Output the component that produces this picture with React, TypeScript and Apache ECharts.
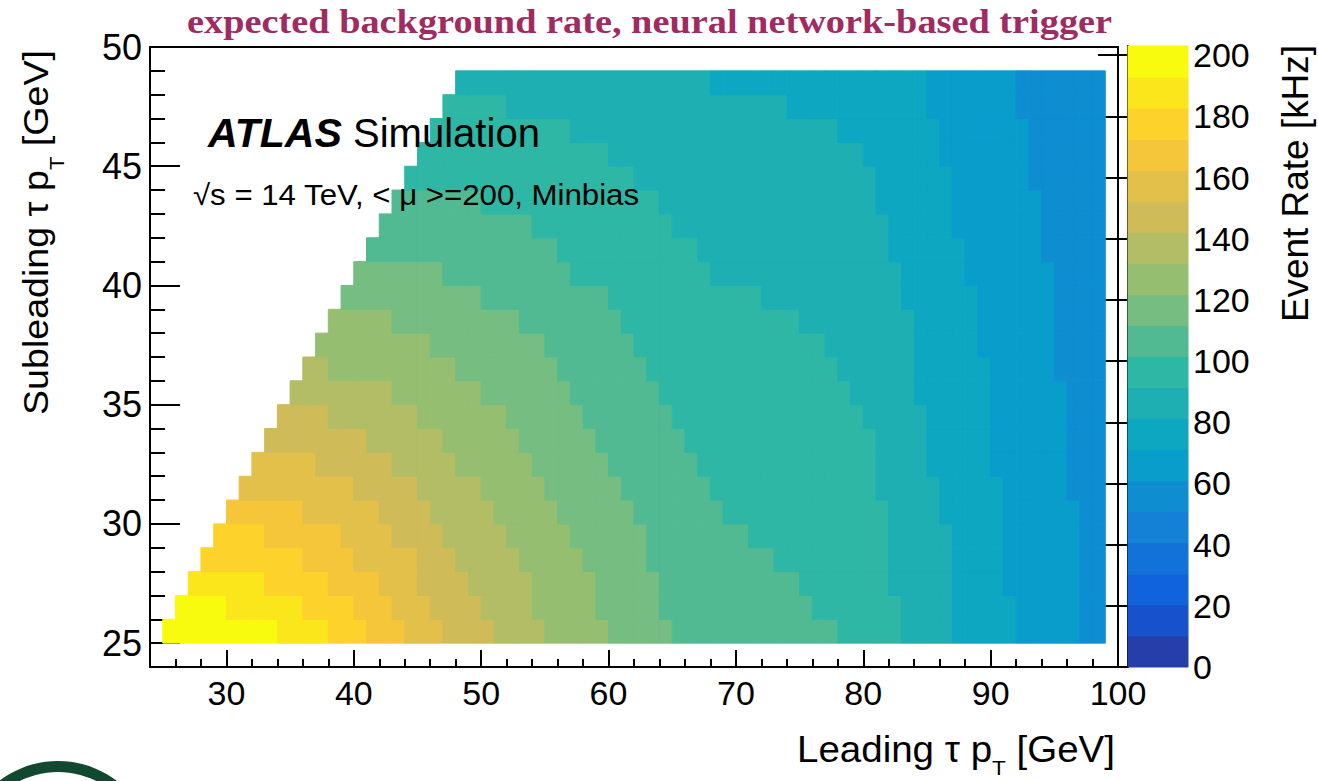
import React, { useEffect, useRef } from 'react';
import * as echarts from 'echarts';

// ---------- axes ----------
const X_MIN = 24;
const X_MAX = 100;
const Y_MIN = 24;
const Y_MAX = 50;
const X_MAJOR = [30, 40, 50, 60, 70, 80, 90, 100];
const X_MINOR = [26, 28, 32, 34, 36, 38, 42, 44, 46, 48, 52, 54, 56, 58, 62, 64, 66, 68, 72, 74, 76, 78, 82, 84, 86, 88, 92, 94, 96, 98];
const Y_MAJOR = [25, 30, 35, 40, 45, 50];
const Y_MINOR = [26, 27, 28, 29, 31, 32, 33, 34, 36, 37, 38, 39, 41, 42, 43, 44, 46, 47, 48, 49];
const Z_MAX = 203;
const Z_LEVELS = 20;
const Z_TICKS = [0, 20, 40, 60, 80, 100, 120, 140, 160, 180, 200];

// ---------- histogram (1 GeV bins), read per row as contour-level runs ----------
const ROW_Y = [25, 26, 27, 28, 29, 30, 31, 32, 33, 34, 35, 36, 37, 38, 39, 40, 41, 42, 43, 44, 45, 46, 47, 48];
const ROW_X_FIRST = [25, 26, 27, 28, 29, 30, 31, 32, 33, 34, 35, 36, 37, 38, 39, 40, 41, 42, 43, 44, 45, 46, 47, 48];
const ROW_X_LAST = 98;
const ROW_FIRST_LEVEL = [19, 19, 18, 17, 17, 16, 15, 15, 14, 14, 13, 13, 12, 12, 11, 11, 10, 10, 10, 9, 9, 9, 9, 8];
const ROW_LEVEL_DROPS = [
  [34, 38, 41, 44, 47, 51, 55, 60, 65, 78, 83, 87, 92, 97],
  [30, 36, 40, 43, 46, 50, 54, 59, 64, 76, 83, 87, 92, 97],
  [33, 38, 42, 45, 49, 54, 59, 64, 75, 82, 87, 91, 97],
  [36, 40, 45, 48, 53, 58, 63, 73, 82, 87, 91, 97],
  [33, 39, 43, 47, 52, 57, 63, 71, 82, 87, 91, 97],
  [36, 42, 46, 51, 56, 62, 69, 82, 86, 91, 97],
  [40, 45, 50, 55, 61, 68, 81, 86, 91, 96],
  [37, 43, 48, 54, 60, 67, 81, 85, 90, 96],
  [41, 47, 53, 59, 66, 81, 85, 90, 96],
  [38, 45, 52, 58, 65, 80, 85, 90, 96],
  [43, 50, 57, 64, 79, 84, 90, 96],
  [38, 48, 56, 63, 78, 84, 90, 95],
  [46, 55, 62, 77, 84, 89, 95],
  [43, 53, 61, 75, 84, 89, 95],
  [50, 60, 72, 83, 89, 95],
  [47, 57, 68, 83, 88, 95],
  [56, 67, 82, 88, 94],
  [54, 65, 82, 87, 94],
  [50, 64, 81, 87, 94],
  [62, 81, 87, 93],
  [60, 80, 86, 93],
  [57, 78, 86, 93],
  [52, 74, 85, 92],
  [68, 85, 92],
];

// ---------- texts ----------
const TITLE = 'expected background rate, neural network-based trigger';
const X_TITLE = ['Leading τ p', 'T', ' [GeV]'];
const Y_TITLE = ['Subleading τ p', 'T', ' [GeV]'];
const Z_TITLE = 'Event Rate [kHz]';
const ATLAS_LABEL = ['ATLAS', 'Simulation'];
const CONDITIONS = '√s = 14 TeV, < μ >=200, Minbias';

// ROOT kBird palette
const BIRD_STOPS = [0, 0.125, 0.25, 0.375, 0.5, 0.625, 0.75, 0.875, 1];
const BIRD_R = [0.2082, 0.0592, 0.078, 0.0232, 0.1802, 0.5301, 0.8186, 0.9956, 0.9764];
const BIRD_G = [0.1664, 0.3599, 0.5041, 0.6419, 0.7178, 0.7492, 0.7328, 0.7862, 0.9832];
const BIRD_B = [0.5293, 0.8684, 0.8385, 0.7914, 0.6425, 0.4662, 0.3499, 0.1968, 0.0539];

function bird(t: number): string {
  let i = 0;
  while (i < BIRD_STOPS.length - 2 && t > BIRD_STOPS[i + 1]) i++;
  const f = Math.min(1, Math.max(0, (t - BIRD_STOPS[i]) / (BIRD_STOPS[i + 1] - BIRD_STOPS[i])));
  const c = (a: number[]) => Math.round(255 * (a[i] + (a[i + 1] - a[i]) * f));
  return `rgb(${c(BIRD_R)},${c(BIRD_G)},${c(BIRD_B)})`;
}

const FONT = '"Liberation Sans", Arial, Helvetica, sans-serif';

function measure(text: string, font: string): number {
  const ctx = document.createElement('canvas').getContext('2d') as CanvasRenderingContext2D;
  ctx.font = font;
  return ctx.measureText(text).width;
}

export default function App() {
  const ref = useRef<HTMLDivElement>(null);

  useEffect(() => {
    if (!ref.current) return;
    const chart = echarts.init(ref.current, undefined, { renderer: 'svg' });
    const step = Z_MAX / Z_LEVELS;

    const cells: number[][] = [];
    ROW_Y.forEach((y, r) => {
      let level = ROW_FIRST_LEVEL[r];
      const drops = ROW_LEVEL_DROPS[r];
      let k = 0;
      for (let x = ROW_X_FIRST[r]; x <= ROW_X_LAST; x++) {
        while (k < drops.length && x >= drops[k]) {
          level--;
          k++;
        }
        cells.push([x, y, (level + 0.5) * step]);
      }
    });

    const levels = Array.from({ length: Z_LEVELS }, (_, i) => i);
    const pieces = levels.map((i) => ({
      gte: i * step,
      lt: i === Z_LEVELS - 1 ? Z_MAX + 1 : (i + 1) * step,
      color: bird((i + 0.99) / Z_LEVELS),
    }));
    const bandData = levels.map((i) => [i * step, (i + 1) * step, (i + 0.5) * step]);

    const tickStyle = { color: '#000', width: 2 };

    // ---- text layout ----
    const mainFont = `36px ${FONT}`;
    const subFont = `21px ${FONT}`;
    const titleFont = `bold 34px "Liberation Serif", "DejaVu Serif", serif`;
    const titleScale = 925 / measure(TITLE, titleFont);

    const partsWidth = (parts: string[]) => [
      measure(parts[0], mainFont),
      measure(parts[1], subFont),
      measure(parts[2], mainFont),
    ];
    const axisTitleGroup = (parts: string[], total: number, subOffset: number) => {
      const w = partsWidth(parts);
      const sum = w[0] + w[1] + w[2];
      return {
        scale: total / sum,
        children: [
          { type: 'text', x: -sum, y: 0, style: { text: parts[0], font: mainFont, fill: '#000', textVerticalAlign: 'middle' } },
          { type: 'text', x: -sum + w[0], y: subOffset, style: { text: parts[1], font: subFont, fill: '#000', textVerticalAlign: 'middle' } },
          { type: 'text', x: -w[2], y: 0, style: { text: parts[2], font: mainFont, fill: '#000', textVerticalAlign: 'middle' } },
        ],
      };
    };
    const xt = axisTitleGroup(X_TITLE, 318, 19);
    const yt = axisTitleGroup(Y_TITLE, 365, 21);
    const zFont = `36px ${FONT}`;
    const zScale = 277 / measure(Z_TITLE, zFont);
    const atlasFont = `italic bold 40px ${FONT}`;
    const simFont = `40px ${FONT}`;
    const atlasScale = 134 / measure(ATLAS_LABEL[0], atlasFont);
    const simScale = 187 / measure(ATLAS_LABEL[1], simFont);
    const condFont = `29px ${FONT}`;
    const condScale = 447 / measure(CONDITIONS, condFont);

    const option: any = {
      animation: false,
      backgroundColor: '#ffffff',
      grid: [
        { left: 150, top: 47, width: 968, height: 620, show: true, borderColor: '#000', borderWidth: 2, backgroundColor: 'rgba(0,0,0,0)' },
        { left: 1128, top: 46, width: 60, height: 621, show: false },
      ],
      xAxis: [
        {
          gridIndex: 0, type: 'value', min: X_MIN, max: X_MAX, position: 'bottom',
          axisLine: { show: false }, splitLine: { show: false },
          axisTick: { show: true, inside: true, length: 17, customValues: X_MAJOR, lineStyle: tickStyle },
          axisLabel: { customValues: X_MAJOR, fontSize: 34, fontFamily: FONT, color: '#000', margin: 9 },
        },
        {
          gridIndex: 0, type: 'value', min: X_MIN, max: X_MAX, position: 'bottom', offset: 0,
          axisLine: { show: false }, splitLine: { show: false },
          axisTick: { show: true, inside: true, length: 8, customValues: X_MINOR, lineStyle: tickStyle },
          axisLabel: { show: false },
        },
        { gridIndex: 1, type: 'value', min: 0, max: 1, show: false },
      ],
      yAxis: [
        {
          gridIndex: 0, type: 'value', min: Y_MIN, max: Y_MAX, position: 'left',
          axisLine: { show: false }, splitLine: { show: false },
          axisTick: { show: true, inside: true, length: 30, customValues: Y_MAJOR, lineStyle: tickStyle },
          axisLabel: { customValues: Y_MAJOR, fontSize: 36, fontFamily: FONT, color: '#000', margin: 8 },
        },
        {
          gridIndex: 0, type: 'value', min: Y_MIN, max: Y_MAX, position: 'left', offset: 0,
          axisLine: { show: false }, splitLine: { show: false },
          axisTick: { show: true, inside: true, length: 15, customValues: Y_MINOR, lineStyle: tickStyle },
          axisLabel: { show: false },
        },
        {
          gridIndex: 1, type: 'value', min: 0, max: Z_MAX, position: 'right',
          axisLine: { show: true, lineStyle: { color: '#000', width: 2 } }, splitLine: { show: false },
          axisTick: { show: true, inside: true, length: 30, customValues: Z_TICKS, lineStyle: tickStyle },
          axisLabel: { customValues: Z_TICKS, fontSize: 34, fontFamily: FONT, color: '#000', margin: 5 },
        },
      ],
      visualMap: {
        type: 'piecewise', show: false, dimension: 2, seriesIndex: [0, 1], pieces,
      },
      series: [
        {
          type: 'custom', xAxisIndex: 0, yAxisIndex: 0, data: cells,
          renderItem: (_p: any, api: any) => {
            const x = api.value(0);
            const y = api.value(1);
            const a = api.coord([x, y + 1]);
            const b = api.coord([x + 1, y]);
            const c = api.visual('color');
            return {
              type: 'rect',
              shape: { x: a[0], y: a[1], width: b[0] - a[0], height: b[1] - a[1] },
              style: { fill: c, stroke: c, lineWidth: 1 },
            };
          },
        },
        {
          type: 'custom', xAxisIndex: 2, yAxisIndex: 2, data: bandData,
          renderItem: (_p: any, api: any) => {
            const a = api.coord([0, api.value(1)]);
            const b = api.coord([1, api.value(0)]);
            const c = api.visual('color');
            return {
              type: 'rect',
              shape: { x: a[0], y: a[1], width: b[0] - a[0], height: b[1] - a[1] },
              style: { fill: c, stroke: c, lineWidth: 1 },
            };
          },
        },
      ],
      graphic: [
        { type: 'text', z: 100, x: 187, y: 22, scaleX: titleScale, style: { text: TITLE, font: titleFont, fill: '#a02a62', textVerticalAlign: 'middle' } },
        { type: 'text', z: 100, x: 208, y: 133, scaleX: atlasScale, style: { text: ATLAS_LABEL[0], font: atlasFont, fill: '#000', textVerticalAlign: 'middle' } },
        { type: 'text', z: 100, x: 353, y: 133, scaleX: simScale, style: { text: ATLAS_LABEL[1], font: simFont, fill: '#000', textVerticalAlign: 'middle' } },
        { type: 'text', z: 100, x: 193, y: 195, scaleX: condScale, style: { text: CONDITIONS, font: condFont, fill: '#000', textVerticalAlign: 'middle' } },
        { type: 'group', z: 100, x: 1115, y: 749, scaleX: xt.scale, children: xt.children },
        { type: 'group', z: 100, x: 36, y: 50, rotation: Math.PI / 2, scaleX: yt.scale, children: yt.children },
        {
          type: 'text', z: 100, x: 1296, y: 45, rotation: Math.PI / 2, scaleX: zScale,
          style: { text: Z_TITLE, font: zFont, fill: '#000', textAlign: 'right', textVerticalAlign: 'middle' },
        },
        { type: 'ring', z: 100, shape: { cx: 58, cy: 858, r: 97, r0: 86 }, style: { fill: '#134830' } },
      ],
    };

    chart.setOption(option);
    return () => chart.dispose();
  }, []);

  return <div ref={ref} style={{ position: 'fixed', left: 0, top: 0, width: 1318, height: 781 }} />;
}
